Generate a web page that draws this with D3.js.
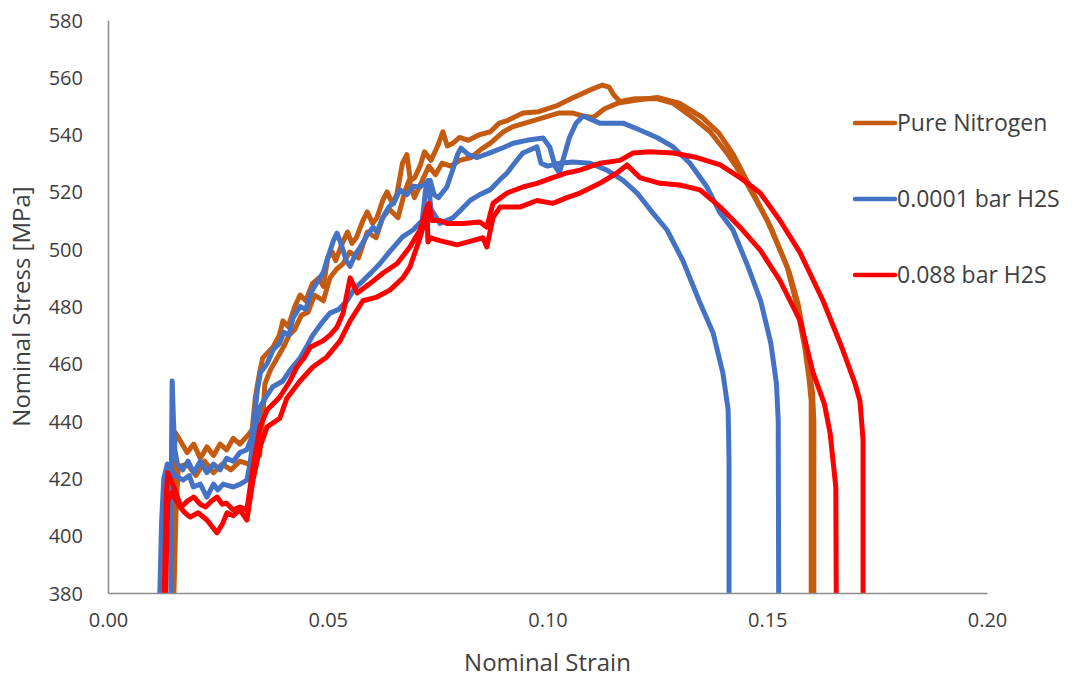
<!DOCTYPE html>
<html>
<head>
<meta charset="utf-8">
<script src="https://cdn.jsdelivr.net/npm/d3@7"></script>
<style>
  body { margin: 0; background: #fff; }
  svg text { font-family: "Open Sans", "Noto Sans", sans-serif; fill: #404040; }
</style>
</head>
<body>
<div id="chart"></div>
<script>
// tick labels
const xTicks = [0, 0.05, 0.10, 0.15, 0.20];
const yTicks = [380, 400, 420, 440, 460, 480, 500, 520, 540, 560, 580];

// series names, in drawing order
const seriesNames = ["Pure Nitrogen", "0.0001 bar H2S", "0.088 bar H2S"];
const seriesColors = ["#C55A11", "#4472C4", "#FF0000"];

// [strain, stress], two tests per atmosphere
const nitrogenA = [[0.0146,380],[0.0150,425],[0.0153,436],[0.0165,433],[0.0180,429],[0.0195,432],[0.0210,427],[0.0225,431],[0.0240,428],[0.0255,432],[0.0270,430],[0.0285,434],[0.0300,432],[0.0318,435],[0.0328,437],[0.0335,448],[0.0345,457],[0.0352,462],[0.0364,464],[0.0376,466],[0.0390,470],[0.0398,475],[0.0410,473],[0.0425,480],[0.0437,484],[0.0450,482],[0.0465,488],[0.0480,490],[0.0490,487],[0.0500,497],[0.0510,499],[0.0518,496],[0.0530,501],[0.0545,506],[0.0555,502],[0.0565,504],[0.0580,510],[0.0590,513],[0.0602,509],[0.0612,511],[0.0625,517],[0.0635,520],[0.0647,516],[0.0657,519],[0.0670,530],[0.0680,533],[0.0688,524],[0.0698,525],[0.0710,529],[0.0720,534],[0.0735,531],[0.0750,536],[0.0762,541],[0.0772,536],[0.0785,537],[0.0800,539],[0.0820,538],[0.0846,540],[0.0870,541],[0.0890,544],[0.0910,545],[0.0944,547.5],[0.0980,548],[0.1020,550],[0.1060,553],[0.1097,555.6],[0.1125,557.3],[0.1140,556.6],[0.1150,554],[0.1165,551.5],[0.1180,552],[0.1200,552.5],[0.1250,552.5],[0.1285,551],[0.1330,546],[0.1370,541],[0.1408,533.6],[0.1450,524],[0.1500,510],[0.1545,494],[0.1565,482],[0.1585,466],[0.1595,455],[0.1600,447],[0.1600,380]];
const nitrogenB = [[0.0150,380],[0.0155,410],[0.0160,424],[0.0180,425],[0.0200,421],[0.0220,426],[0.0240,422],[0.0260,425],[0.0280,423],[0.0300,426],[0.0320,425],[0.0345,428],[0.0352,441],[0.0357,453],[0.0370,458],[0.0385,462],[0.0400,466],[0.0412,470],[0.0425,472],[0.0440,477],[0.0455,478],[0.0470,484],[0.0490,482],[0.0505,490],[0.0520,493],[0.0535,495],[0.0550,499],[0.0570,497],[0.0590,506],[0.0610,504],[0.0625,511],[0.0640,514],[0.0660,511],[0.0675,520],[0.0685,524],[0.0697,518],[0.0715,524],[0.0730,529],[0.0745,526],[0.0760,530],[0.0780,529],[0.0800,531],[0.0826,532],[0.0850,535],[0.0870,537],[0.0900,541],[0.0920,542.7],[0.0970,545],[0.1025,547.5],[0.1058,547.5],[0.1080,546.5],[0.1104,546],[0.1130,549],[0.1160,551],[0.1200,552],[0.1250,553],[0.1300,551],[0.1352,546],[0.1390,540.5],[0.1423,533],[0.1460,522],[0.1510,507],[0.1550,492],[0.1570,481],[0.1590,464],[0.1603,450],[0.1606,440],[0.1606,380]];

const lowH2SA = [[0.0143,380],[0.0144,420],[0.0146,454],[0.0149,440],[0.0152,430],[0.0158,425],[0.0170,423],[0.0182,426],[0.0195,422],[0.0210,426],[0.0225,422],[0.0240,425],[0.0255,423],[0.0270,427],[0.0285,426],[0.0300,429],[0.0316,430],[0.0326,434],[0.0332,440],[0.0340,451],[0.0347,457],[0.0362,460],[0.0376,465],[0.0390,467],[0.0400,471],[0.0412,470],[0.0421,476],[0.0437,480],[0.0450,479],[0.0462,485],[0.0478,489],[0.0490,492],[0.0500,497],[0.0513,503],[0.0521,505.6],[0.0530,502],[0.0542,496],[0.0551,494],[0.0562,498],[0.0575,501],[0.0590,505],[0.0603,507.7],[0.0612,506],[0.0625,511],[0.0640,515],[0.0650,516],[0.0664,520.7],[0.0680,519],[0.0695,522],[0.0710,521.7],[0.0722,523],[0.0733,524],[0.0742,519],[0.0752,518],[0.0771,521.7],[0.0785,528],[0.0795,533],[0.0803,535.3],[0.0820,533],[0.0840,532],[0.0869,533.6],[0.0900,535.5],[0.0922,537],[0.0953,538],[0.0990,538.8],[0.1005,535.7],[0.1018,528.7],[0.1027,526.6],[0.1035,531],[0.1050,539],[0.1065,544],[0.1081,546.5],[0.1119,544],[0.1172,544],[0.1210,541.6],[0.1249,539],[0.1286,535.7],[0.1324,530],[0.1363,521.7],[0.1393,512.6],[0.1422,506.7],[0.1456,494],[0.1485,482],[0.1508,467.3],[0.1521,453],[0.1525,440],[0.1526,380]];
const lowH2SB = [[0.0118,380],[0.0122,405],[0.0127,420],[0.0135,425],[0.0153,421],[0.0171,419.4],[0.0185,421],[0.0194,417],[0.0210,418],[0.0225,413.5],[0.0240,418],[0.0250,416],[0.0262,418],[0.0285,417],[0.0301,418],[0.0316,419.4],[0.0323,425],[0.0330,433],[0.0346,445],[0.0362,449],[0.0375,452],[0.0398,454],[0.0415,458],[0.0437,462],[0.0452,466],[0.0466,470],[0.0485,474],[0.0505,477.7],[0.0525,479],[0.0544,482],[0.0560,486],[0.0580,489],[0.0600,492],[0.0619,495],[0.0640,499],[0.0670,504.3],[0.0694,506.7],[0.0715,510],[0.0722,520],[0.0728,524],[0.0735,514],[0.0755,509],[0.0785,511],[0.0805,514],[0.0824,517],[0.0845,519],[0.0869,520.7],[0.0890,524],[0.0908,526.6],[0.0925,530],[0.0944,533.6],[0.0976,535.7],[0.0985,530],[0.1000,529],[0.1028,530],[0.1058,530.4],[0.1097,530],[0.1135,527.6],[0.1172,524],[0.1204,519.6],[0.1240,512.6],[0.1272,506.7],[0.1308,496],[0.1345,482],[0.1377,470.7],[0.1399,456.8],[0.1411,444],[0.1413,426.4],[0.1413,380]];

const highH2SA = [[0.0128,380],[0.0133,415],[0.0136,422],[0.0150,417],[0.0166,410],[0.0180,412],[0.0195,413.5],[0.0210,411],[0.0222,410],[0.0235,412],[0.0248,413.5],[0.0260,411],[0.0269,411.4],[0.0285,409],[0.0300,410],[0.0316,409],[0.0330,424],[0.0346,438],[0.0362,443.9],[0.0391,448.4],[0.0414,454],[0.0430,458.9],[0.0446,462],[0.0460,465.8],[0.0489,468],[0.0505,470],[0.0521,472.8],[0.0535,477.7],[0.0551,490],[0.0567,484.7],[0.0596,488],[0.0626,491.7],[0.0658,495],[0.0687,500.8],[0.0710,506.7],[0.0726,514.7],[0.0730,516],[0.0737,510],[0.0755,510],[0.0771,509],[0.0808,509],[0.0846,509.5],[0.0862,507.7],[0.0876,516],[0.0908,519.6],[0.0944,521.7],[0.0976,523],[0.1012,525],[0.1044,526.6],[0.1074,527.6],[0.1119,530],[0.1165,531],[0.1195,533.6],[0.1233,534],[0.1286,533.6],[0.1340,532],[0.1393,529.4],[0.1438,525],[0.1484,519.6],[0.1529,510],[0.1575,498.7],[0.1627,482],[0.1672,464.8],[0.1700,453],[0.1711,447],[0.1718,433.4],[0.1718,380]];
const highH2SB = [[0.0131,380],[0.0136,412],[0.0145,415],[0.0164,410],[0.0175,408],[0.0187,406.5],[0.0205,408],[0.0225,405.5],[0.0248,401],[0.0260,404],[0.0271,408],[0.0285,407],[0.0300,409],[0.0316,405.5],[0.0330,419.4],[0.0346,431],[0.0362,438],[0.0391,441],[0.0407,448],[0.0437,454],[0.0466,458.9],[0.0498,462.4],[0.0528,468],[0.0551,475],[0.0580,482],[0.0612,483.3],[0.0642,485.8],[0.0671,490],[0.0687,493.8],[0.0710,504],[0.0726,512.6],[0.0728,502.5],[0.0733,504],[0.0755,503],[0.0794,501.5],[0.0830,503],[0.0853,504],[0.0862,500.8],[0.0876,511],[0.0892,514.7],[0.0937,514.7],[0.0976,517],[0.1012,516],[0.1044,518],[0.1074,519.6],[0.1119,523],[0.1158,526.6],[0.1181,529.4],[0.1210,525],[0.1256,523],[0.1301,522.4],[0.1347,520.7],[0.1393,514.7],[0.1438,507.7],[0.1484,499.7],[0.1529,489],[0.1575,475],[0.1604,457],[0.1630,446],[0.1643,435.8],[0.1656,417],[0.1657,380]];

const curves = [
  {series: 0, pts: nitrogenA}, {series: 0, pts: nitrogenB},
  {series: 1, pts: lowH2SA}, {series: 1, pts: lowH2SB},
  {series: 2, pts: highH2SA}, {series: 2, pts: highH2SB}
];

// plot box
const W = 1088, H = 681;
const margin = {top: 20, right: 101, bottom: 88, left: 108};
const width = W - margin.left - margin.right,
      height = H - margin.top - margin.bottom;

const svg = d3.select("#chart").append("svg")
  .attr("width", W)
  .attr("height", H);

const g = svg.append("g")
  .attr("transform", "translate(" + margin.left + "," + margin.top + ")");

const x = d3.scaleLinear().domain([0, 0.20]).range([0, width]);
const y = d3.scaleLinear().domain([380, 580]).range([height, 0]);

g.append("clipPath").attr("id", "plotclip")
  .append("rect").attr("x", 0).attr("y", -5).attr("width", width).attr("height", height + 5);

// curves
const line = d3.line().x(d => x(d[0])).y(d => y(d[1]));
g.append("g").attr("clip-path", "url(#plotclip)")
  .selectAll("path")
  .data(curves)
  .enter().append("path")
  .attr("d", d => line(d.pts))
  .attr("fill", "none")
  .attr("stroke", d => seriesColors[d.series])
  .attr("stroke-width", 5)
  .attr("stroke-linejoin", "round");

// axes
const xAxis = g.append("g")
  .attr("transform", "translate(0," + height + ")")
  .call(d3.axisBottom(x).tickValues(xTicks).tickSize(0).tickPadding(27).tickFormat(d3.format(".2f")));
const yAxis = g.append("g")
  .call(d3.axisLeft(y).tickValues(yTicks).tickSize(0).tickPadding(25));

[xAxis, yAxis].forEach(a => {
  a.select(".domain").attr("stroke", "#8c8c8c").attr("stroke-width", 1.5);
  a.selectAll("text").attr("font-size", 20).attr("font-family", null).attr("fill", "#404040");
});
xAxis.selectAll("text").attr("dy", "0.35em");
yAxis.selectAll("text").attr("dy", "0.35em");

// axis titles
svg.append("text")
  .attr("x", margin.left + width / 2)
  .attr("y", 663)
  .attr("dy", "0.35em")
  .attr("text-anchor", "middle")
  .attr("font-size", 24)
  .text("Nominal Strain");

svg.append("text")
  .attr("transform", "translate(22," + (margin.top + height / 2) + ") rotate(-90)")
  .attr("dy", "0.35em")
  .attr("text-anchor", "middle")
  .attr("font-size", 24)
  .text("Nominal Stress [MPa]");

// legend
const legend = svg.append("g").selectAll("g")
  .data(seriesNames)
  .enter().append("g")
  .attr("transform", (d, i) => "translate(855," + (123 + i * 76) + ")");
legend.append("line")
  .attr("x1", 0).attr("x2", 40)
  .attr("stroke", (d, i) => seriesColors[i])
  .attr("stroke-width", 4.5)
  .attr("stroke-linecap", "round");
legend.append("text")
  .attr("x", 42)
  .attr("dy", "0.35em")
  .attr("font-size", 23)
  .text(d => d);
</script>
</body>
</html>
